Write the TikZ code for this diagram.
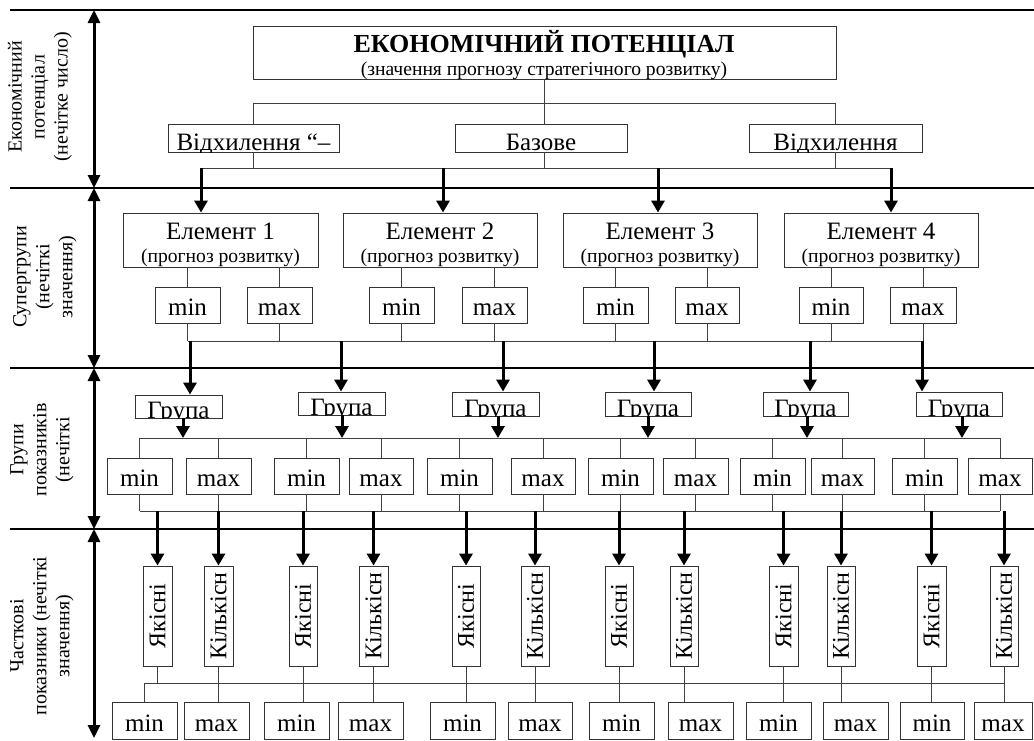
\documentclass[tikz,border=0pt]{standalone}
\usepackage{fontspec}
\setmainfont{Liberation Serif}
\usetikzlibrary{arrows.meta}

\tikzset{
  frame/.style={draw=black!80, line width=0.9pt, inner sep=0pt},
  wire/.style={draw=black!75, line width=0.8pt},
  heavy/.style={line width=3pt, -{Triangle[width=13pt,length=12pt]}},
  sep/.style={line width=2.6pt},
  axis/.style={line width=3pt, {Triangle[width=12pt,length=13pt]}-{Triangle[width=12pt,length=13pt]}},
  big/.style={font=\fontsize{25}{29}\selectfont},
  vert/.style={font=\fontsize{24}{28}\selectfont},
  minmax/.style={big, text height=21.5pt, text depth=0pt},
  mid/.style={font=\fontsize{19.6}{23}\selectfont},
  side/.style={font=\fontsize{20}{23}\selectfont, rotate=90, align=center},
  head/.style={font=\bfseries\fontsize{26}{30}\selectfont},
}

% box given by its corners: [style] name x1 y1 x2 y2 text
\newcommand\bx[7][]{%
  \pgfmathsetmacro\bxw{#5-#3}\pgfmathsetmacro\bxh{#6-#4}%
  \node[frame,minimum width=\bxw pt,minimum height=\bxh pt,#1] (#2)
    at ({(#3+#5)/2},{(#4+#6)/2}) {#7};}
% box whose text is cut off by its frame; last argument lifts the baseline
\newcommand\cutbx[7]{%
  \bx{#1}{#2}{#3}{#4}{#5}{}%
  \begin{scope}
    \clip (#1.south west) rectangle (#1.north east);
    \node[big,anchor=base,inner sep=0pt] (#1-t) at ([yshift=#7]#1.south) {#6};
  \end{scope}}
% tall box with upright-rotated text
\newcommand\vbx[4]{%
  \bx{#1}{#2}{566}{#3}{666}{}%
  \node[vert,rotate=90,inner sep=0pt] (#1-t) at (#1.center) {#4};}

\begin{document}
\begin{tikzpicture}[x=1pt,y=-1pt]
\useasboundingbox (0,0) rectangle (1034,740);

% level separators
\draw[sep] (10,10) -- (1034,10);
\draw[sep] (10,188) -- (1034,188);
\draw[sep] (10,368) -- (1034,368);
\draw[sep] (10,529) -- (1034,529);

% level extents
\draw[axis] (94,10) -- (94,188);
\draw[axis] (94,188) -- (94,368);
\draw[axis] (94,368) -- (94,529);
\draw[axis] (94,529) -- (94,738);

% level captions
\node[side] (lab1) at (40,97) {Економічний\\потенціал\\(нечітке число)};
\node[side] (lab2) at (45,277) {Супергрупи\\(нечіткі\\значення)};
\node[side] (lab3) at (42,450) {Групи\\показників\\(нечіткі};
\node[side] (lab4) at (42,636) {Часткові\\показники (нечіткі\\значення)};

% ---- level 1 ----
\bx{top}{253}{26}{836}{79}{}
\node[head,anchor=base] (top-a) at (544,52) {ЕКОНОМІЧНИЙ ПОТЕНЦІАЛ};
\node[mid,anchor=base] (top-b) at (544,75) {(значення прогнозу стратегічного розвитку)};

\cutbx{dl}{168}{124}{339}{152}{Відхилення “–}{2pt}
\cutbx{db}{455}{124}{627}{152}{Базове}{2pt}
\cutbx{dr}{749}{124}{922}{152}{Відхилення}{2pt}

\coordinate (tbar) at (0,103);
\draw[wire] (top.south) -- (top.south |- db.north);
\draw[wire] (dl.north |- tbar) -- (dr.north |- tbar);
\draw[wire] (dl.north) -- (dl.north |- tbar);
\draw[wire] (dr.north) -- (dr.north |- tbar);

% ---- level 2 ----
\foreach \n/\a/\b in {1/123/318, 2/343/537, 3/563/757, 4/784/978}{
  \bx{e\n}{\a}{213}{\b}{267}{}
  \node[big,anchor=base] (e\n-a) at ([yshift=-27pt]e\n.north) {Елемент \n};
  \node[mid,anchor=base] (e\n-b) at ([yshift=-50pt]e\n.north) {(прогноз розвитку)};
}
\coordinate (k1) at (201,168);
\coordinate (k2) at (443,168);
\coordinate (k3) at (658,168);
\coordinate (k4) at (891,168);
\draw[wire] (k1) -- (k4);
\draw[wire] (dl.south) -- (dl.south |- k1);
\draw[wire] (top.south |- db.south) -- (top.south |- k1);
\draw[wire] (dr.south) -- (dr.south |- k1);
\foreach \n in {1,2,3,4}{
  \draw[heavy] (k\n) -- (k\n |- e\n.north);
}

\foreach \n/\a/\b/\c/\d in {1/155/220/247/312, 2/369/434/462/527, 3/583/648/675/739, 4/799/863/890/956}{
  \bx[minmax]{mn\n}{\a}{287}{\b}{323}{min}
  \bx[minmax]{mx\n}{\c}{287}{\d}{323}{max}
  \draw[wire] (mn\n.north) -- (mn\n.north |- e\n.south);
  \draw[wire] (mx\n.north) -- (mx\n.north |- e\n.south);
}
\coordinate (cbar) at (0,341);
\draw[wire] (mn1.south |- cbar) -- (mx4.south |- cbar);
\foreach \n in {1,2,3,4}{
  \draw[wire] (mn\n.south) -- (mn\n.south |- cbar);
  \draw[wire] (mx\n.south) -- (mx\n.south |- cbar);
}

% ---- level 3 ----
\cutbx{g1}{135}{395}{222}{418}{Група}{0pt}
\cutbx{g2}{298}{392}{385}{415}{Група}{0pt}
\cutbx{g3}{452}{392}{539}{416}{Група}{0pt}
\cutbx{g4}{605}{392}{691}{416}{Група}{0pt}
\cutbx{g5}{763}{392}{848}{416}{Група}{0pt}
\cutbx{g6}{916}{392}{1002}{416}{Група}{0pt}

\coordinate (p1) at (190,341);
\coordinate (p2) at (341,341);
\coordinate (p3) at (503,341);
\coordinate (p4) at (654,341);
\coordinate (p5) at (810,341);
\coordinate (p6) at (922,341);
\coordinate (q1) at (183,438);
\coordinate (q2) at (342,438);
\coordinate (q3) at (498,438);
\coordinate (q4) at (648,438);
\coordinate (q5) at (807,438);
\coordinate (q6) at (962,438);
\foreach \n in {1,...,6}{
  \draw[heavy] (p\n) -- (p\n |- g\n.north);
  \draw[heavy] (q\n |- g\n.south) -- (q\n);
}

\foreach \n/\a/\b/\c/\d in {1/107/172/186/251, 2/274/339/349/413, 3/427/492/511/575,
                            4/588/653/663/728, 5/740/805/811/874, 6/892/957/968/1032}{
  \bx[minmax]{n\n}{\a}{458}{\b}{494}{min}
  \bx[minmax]{x\n}{\c}{458}{\d}{494}{max}
}
\coordinate (sbar) at (0,511);
\draw[wire] (n1.north |- q1) -- (x6.north |- q1);
\draw[wire] (n1.south |- sbar) -- (x6.south |- sbar);
\foreach \n in {1,...,6}{
  \draw[wire] (n\n.north |- q1) -- (n\n.north);
  \draw[wire] (x\n.north |- q1) -- (x\n.north);
  \draw[wire] (n\n.south) -- (n\n.south |- sbar);
  \draw[wire] (x\n.south) -- (x\n.south |- sbar);
}

% ---- level 4 ----
\vbx{v1}{143}{172}{Якісні}
\vbx{v2}{204}{233}{Кількісн}
\vbx{v3}{289}{317}{Якісні}
\vbx{v4}{359}{388}{Кількісн}
\vbx{v5}{452}{480}{Якісні}
\vbx{v6}{521}{549}{Кількісн}
\vbx{v7}{605}{633}{Якісні}
\vbx{v8}{670}{698}{Кількісн}
\vbx{v9}{769}{798}{Якісні}
\vbx{v10}{827}{855}{Кількісн}
\vbx{v11}{917}{946}{Якісні}
\vbx{v12}{990}{1018}{Кількісн}
\foreach \n in {1,...,12}{
  \draw[heavy] (v\n.north |- sbar) -- (v\n.north);
}

\foreach \n/\a/\b/\t in {1/112/177/min, 2/184/249/max, 3/264/329/min, 4/338/403/max,
                         5/430/495/min, 6/508/572/max, 7/589/654/min, 8/668/733/max,
                         9/746/811/min, 10/823/888/max, 11/900/964/min, 12/974/1032/max}{
  \bx[minmax]{b\n}{\a}{702}{\b}{739}{\t}
}
\coordinate (ubar) at (0,683);
\draw[wire] (b1.north |- ubar) -- (v12.south |- ubar);
\draw[wire] (v1.south) -- (v1.south |- ubar);
\draw[wire] (b1.north |- ubar) -- (b1.north);
\foreach \n in {2,...,12}{
  \draw[wire] (v\n.south) -- (v\n.south |- b\n.north);
}
\end{tikzpicture}
\end{document}
